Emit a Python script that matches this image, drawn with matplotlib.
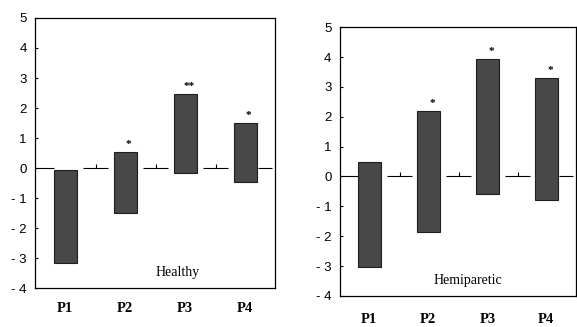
import matplotlib.pyplot as plt
import numpy as np

# floating bars: low / high ends per phase
phases = ["P1", "P2", "P3", "P4"]

healthy_low = [-3.15, -1.5, -0.17, -0.47]
healthy_high = [-0.05, 0.53, 2.47, 1.5]
healthy_sig = ["", "*", "**", "*"]

hemi_low = [-3.02, -1.85, -0.6, -0.8]
hemi_high = [0.47, 2.18, 3.93, 3.29]
hemi_sig = ["", "*", "*", "*"]

yticks = [-4, -3, -2, -1, 0, 1, 2, 3, 4, 5]
ytick_labels = ["- 4", "- 3", "- 2", "- 1", "0", "1", "2", "3", "4", "5"]

fig = plt.figure(figsize=(5.77, 3.27), dpi=100)
ax1 = fig.add_axes([0.061, 0.119, 0.416, 0.826])
ax2 = fig.add_axes([0.589, 0.095, 0.409, 0.822])

bar_w = 0.38
bar_col = "#484848"


def draw_panel(ax, low, high, sig, name, name_xy, lab_pad):
    x = np.arange(len(phases))
    low = np.array(low)
    high = np.array(high)
    ax.bar(x, high - low, bottom=low, width=bar_w, color=bar_col,
           edgecolor="#1e1e1e", linewidth=0.8, zorder=3)
    # zero line broken at the bars, with a small tick in each gap
    ax.hlines(0, -0.5, x[0] - bar_w / 2, color="black", lw=0.8)
    for i in range(len(x) - 1):
        ax.hlines(0, x[i] + 0.3, x[i] + 0.72, color="black", lw=0.8)
        ax.vlines(x[i] + 0.52, 0, 0.15, color="black", lw=0.8)
    ax.hlines(0, x[-1] + 0.22, 3.45, color="black", lw=0.8)
    for xi, h, s in zip(x, high, sig):
        if s:
            ax.text(xi + 0.06, h + 0.1, s, ha="center", va="bottom",
                    fontsize=8, fontweight="bold", family="Liberation Serif")
    ax.text(name_xy[0], name_xy[1], name, ha="center", va="center",
            fontsize=10, family="Liberation Serif")
    ax.set_xlim(-0.5, 3.5)
    ax.set_ylim(-4, 5)
    ax.set_xticks(x)
    ax.set_xticklabels(phases, family="Liberation Serif", fontweight="bold",
                       fontsize=10.5)
    ax.set_yticks(yticks)
    ax.set_yticklabels(ytick_labels, family="Liberation Sans", fontsize=9.5)
    ax.tick_params(axis="x", length=0, pad=lab_pad)
    ax.tick_params(axis="y", direction="in", length=2, pad=6)
    for sp in ax.spines.values():
        sp.set_linewidth(0.9)


draw_panel(ax1, healthy_low, healthy_high, healthy_sig, "Healthy",
           (1.88, -3.47), 10)
draw_panel(ax2, hemi_low, hemi_high, hemi_sig, "Hemiparetic",
           (1.67, -3.49), 12)

fig.savefig("out.png", dpi=100)
